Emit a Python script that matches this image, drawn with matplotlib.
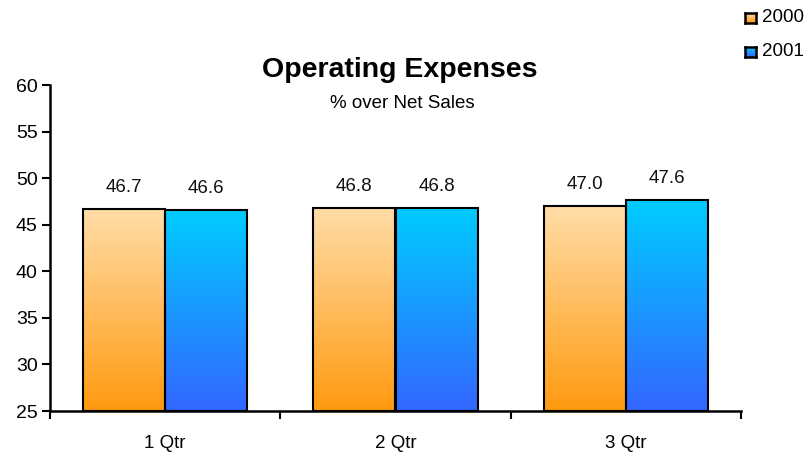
import numpy as np
import matplotlib
matplotlib.use("Agg")
import matplotlib.pyplot as plt
from matplotlib.colors import LinearSegmentedColormap

plt.rcParams['font.family'] = ['Liberation Sans', 'DejaVu Sans']

categories = ["1 Qtr", "2 Qtr", "3 Qtr"]
series_names = ["2000", "2001"]
values_2000 = [46.7, 46.8, 47.0]
values_2001 = [46.6, 46.8, 47.6]
y_ticks = [25, 30, 35, 40, 45, 50, 55, 60]

# top colour -> bottom colour for each series
grad_2000 = ("#FFDDA8", "#FF9A10")
grad_2001 = ("#00CCFF", "#3366FF")

fig = plt.figure(figsize=(8.07, 4.53), dpi=100)
ax = fig.add_axes([50 / 807, 1 - 411 / 453, (741 - 50) / 807, (411 - 85) / 453])

ymin, ymax = 25, 60
bar_w = 0.357
x = np.arange(len(categories))


def gradient_bar(ax, xc, val, colors):
    cmap = LinearSegmentedColormap.from_list("g", [colors[1], colors[0]])
    grad = np.linspace(0, 1, 256).reshape(-1, 1)
    left, right = xc - bar_w / 2, xc + bar_w / 2
    ax.imshow(grad, cmap=cmap, aspect="auto", origin="lower",
              extent=[left, right, ymin, val], zorder=2, interpolation="bicubic")
    ax.bar(xc, val - ymin, bottom=ymin, width=bar_w, facecolor="none",
           edgecolor="black", linewidth=1.5, zorder=3)
    ax.text(xc, val + 1.4, f"{val:.1f}", ha="center", va="bottom",
            fontsize=13.5, color="#111111", zorder=4)


for i in range(len(categories)):
    gradient_bar(ax, x[i] - bar_w / 2, values_2000[i], grad_2000)
    gradient_bar(ax, x[i] + bar_w / 2, values_2001[i], grad_2001)

ax.set_xlim(-0.5, len(categories) - 0.5)
ax.set_ylim(ymin, ymax)
ax.set_yticks(y_ticks)
ax.set_yticklabels([str(t) for t in y_ticks], fontsize=14)
ax.set_xticks(x)
ax.set_xticklabels(categories, fontsize=13.5)
ax.tick_params(axis="x", length=0, pad=17)
# category separators on the x axis
ax.set_xticks(np.arange(-0.5, len(categories) + 0.5, 1), minor=True)
ax.tick_params(axis="x", which="minor", length=6, width=1.5, direction="out")
ax.tick_params(axis="y", length=6, width=1.5, direction="out", pad=3)
for s in ["top", "right"]:
    ax.spines[s].set_visible(False)
for s in ["left", "bottom"]:
    ax.spines[s].set_linewidth(1.8)

fig.text(400 / 807, 1 - 70 / 453, "Operating Expenses", ha="center", va="center",
         fontsize=20.5, fontweight="bold")
fig.text(402 / 807, 1 - 103 / 453, "% over Net Sales", ha="center", va="center",
         fontsize=13.5)

# legend with gradient swatches
for name, colors, yc in [(series_names[0], grad_2000, 18), (series_names[1], grad_2001, 52)]:
    sw = fig.add_axes([745 / 807, 1 - (yc + 5) / 453, 11 / 807, 10 / 453])
    cmap = LinearSegmentedColormap.from_list("g", [colors[1], colors[0]])
    sw.imshow(np.linspace(0, 1, 64).reshape(-1, 1), cmap=cmap, aspect="auto",
              origin="lower", extent=[0, 1, 0, 1])
    sw.set_xticks([])
    sw.set_yticks([])
    for sp in sw.spines.values():
        sp.set_linewidth(1.8)
    fig.text(762 / 807, 1 - yc / 453, name, ha="left", va="center", fontsize=13.5)

fig.savefig("out.png", dpi=100)
